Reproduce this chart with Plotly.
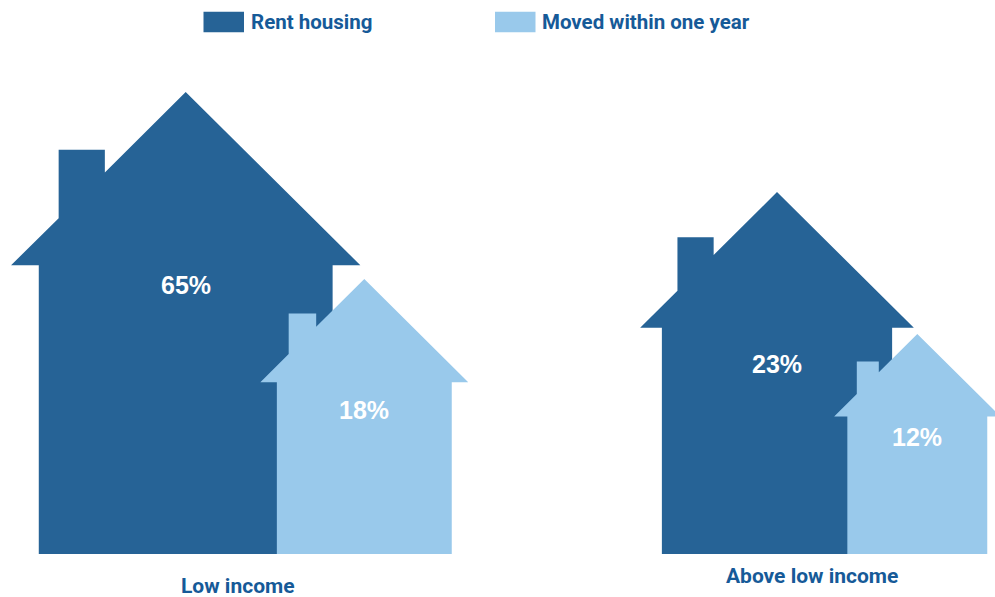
"""House pictogram: rent housing vs. moved within one year, by income group."""

import plotly.graph_objects as go

# ------------------------------------------------------------------ data
GROUPS = ["Low income", "Above low income"]
SERIES = ["Rent housing", "Moved within one year"]
RENT = [65, 23]
MOVED = [18, 12]

# ------------------------------------------------------------------ style
W, H = 995, 597
COLORS = {"Rent housing": "#266396", "Moved within one year": "#99c9eb"}
TEXT_COLOR = "#165a98"
FONT = "Roboto, Liberation Sans, sans-serif"
NUM_FONT = "Liberation Sans, Arial, sans-serif"

BASE = 43  # house floor, in axis units (1 unit = 1 px)
# icon placement per group: (centre x, icon height, label height fraction)
ICON_LAYOUT = {
    "Rent housing": [(185.7, 462, 0.582), (777, 362, 0.524)],
    "Moved within one year": [(364.3, 275, 0.524), (917.3, 220, 0.53)],
}
GROUP_LABEL_POS = [(238, 11.5), (811.5, 21)]

# unit house outline: centre 0, floor 0, apex 1
HOUSE = [
    (-0.318, 0), (-0.318, 0.625), (-0.378, 0.625), (-0.275, 0.727),
    (-0.275, 0.875), (-0.175, 0.875), (-0.175, 0.826), (0, 1),
    (0.378, 0.625), (0.318, 0.625), (0.318, 0), (-0.318, 0),
]


def house_trace(cx, size, color):
    xs = [cx + px * size for px, _ in HOUSE]
    ys = [BASE + py * size for _, py in HOUSE]
    return go.Scatter(
        x=xs, y=ys, mode="lines", fill="toself", fillcolor=color,
        line=dict(width=0, color=color), hoverinfo="skip", showlegend=False,
    )


fig = go.Figure()
annotations = []
for name, values in [("Rent housing", RENT), ("Moved within one year", MOVED)]:
    for (cx, size, lab), v in zip(ICON_LAYOUT[name], values):
        fig.add_trace(house_trace(cx, size, COLORS[name]))
        annotations.append(dict(
            x=cx, y=BASE + lab * size, text=f"<b>{v}%</b>", showarrow=False,
            font=dict(family=NUM_FONT, size=25, color="white"),
            xanchor="center", yanchor="middle",
        ))

for g, (gx, gy) in zip(GROUPS, GROUP_LABEL_POS):
    annotations.append(dict(
        x=gx, y=gy, text=f"<b>{g}</b>", showarrow=False,
        font=dict(family=FONT, size=21, color=TEXT_COLOR),
        xanchor="center", yanchor="middle",
    ))

# legend: swatch + label, placed in axis units
shapes = []
for name, sx in zip(SERIES, [203.5, 495]):
    shapes.append(dict(
        type="rect", x0=sx, x1=sx + 40.5, y0=H - 32.3, y1=H - 11.7,
        fillcolor=COLORS[name], line=dict(width=0),
    ))
    annotations.append(dict(
        x=sx + 45, y=H - 21.5, text=f"<b>{name}</b>", showarrow=False,
        font=dict(family=FONT, size=20.5, color=TEXT_COLOR),
        xanchor="left", yanchor="middle",
    ))

fig.update_layout(
    width=W, height=H,
    margin=dict(l=0, r=0, t=0, b=0),
    paper_bgcolor="white", plot_bgcolor="white",
    xaxis=dict(range=[0, W], visible=False, fixedrange=True),
    yaxis=dict(range=[0, H], visible=False, fixedrange=True),
    shapes=shapes, annotations=annotations, showlegend=False,
)

fig.write_html(
    "out.html",
    config={"displayModeBar": False},
    post_script="document.body.style.margin='0';",
)
